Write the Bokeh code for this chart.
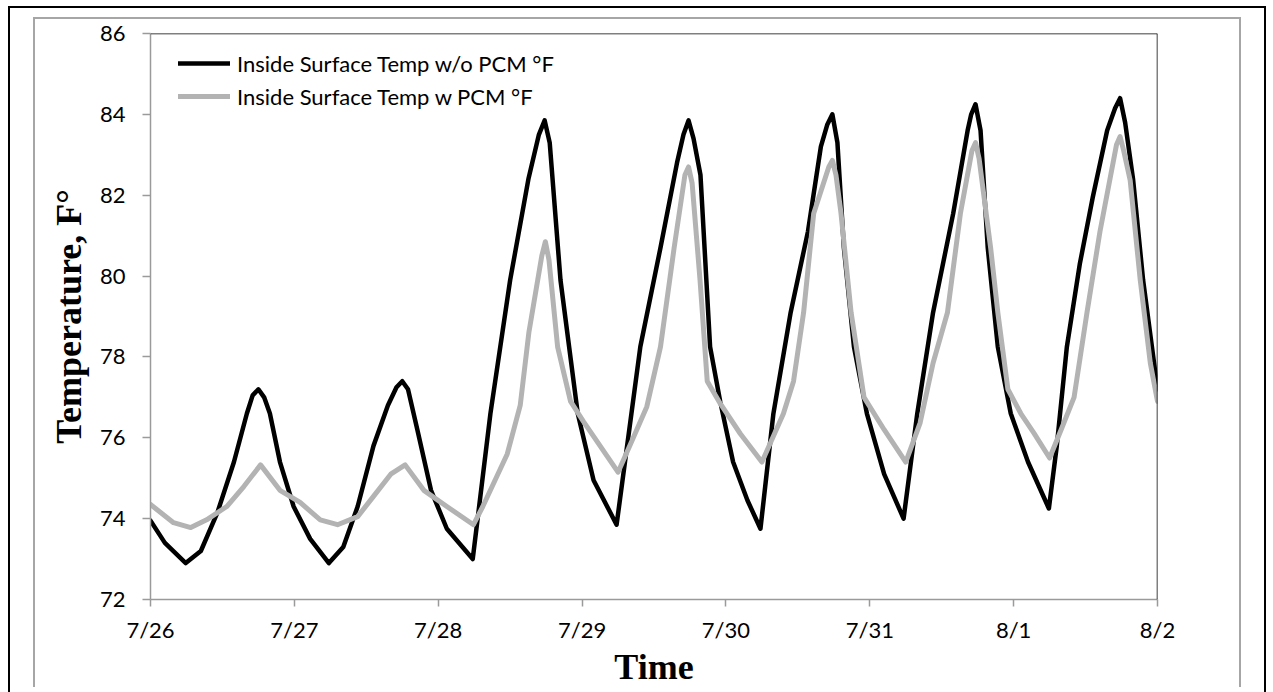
from bokeh.plotting import figure
from bokeh.models import Range1d, FixedTicker, Span, Legend, LegendItem
from bokeh.embed import file_html
from bokeh.resources import INLINE

# ---- data (day offsets from 7/26, temperatures in °F) ----
x_labels = ["7/26", "7/27", "7/28", "7/29", "7/30", "7/31", "8/1", "8/2"]
y_ticks = [72, 74, 76, 78, 80, 82, 84, 86]

wo_days = [0.00, 0.10, 0.245, 0.35, 0.465, 0.58, 0.67, 0.71, 0.75, 0.79, 0.83,
           0.90, 0.995, 1.11, 1.24, 1.34, 1.44, 1.55, 1.65, 1.71, 1.75, 1.79,
           1.855, 1.95, 2.06, 2.24, 2.363, 2.50, 2.627, 2.70, 2.74, 2.775, 2.85,
           2.97, 3.08, 3.24, 3.405, 3.545, 3.66, 3.705, 3.74, 3.775, 3.823, 3.89,
           3.96, 4.05, 4.15, 4.24, 4.33, 4.45, 4.57, 4.66, 4.705, 4.74, 4.775,
           4.82, 4.89, 4.98, 5.10, 5.235, 5.33, 5.44, 5.58, 5.68, 5.705, 5.735,
           5.77, 5.82, 5.89, 5.98, 6.10, 6.245, 6.30, 6.37, 6.46, 6.55, 6.65,
           6.705, 6.74, 6.775, 6.83, 6.90, 7.00]
wo_temp = [73.95, 73.4, 72.9, 73.2, 74.15, 75.4, 76.6, 77.05, 77.2, 77.0, 76.6,
           75.4, 74.3, 73.5, 72.9, 73.3, 74.3, 75.8, 76.8, 77.25, 77.4, 77.2,
           76.2, 74.7, 73.75, 73.0, 76.6, 79.9, 82.4, 83.5, 83.85, 83.3, 79.9,
           76.6, 74.95, 73.85, 78.25, 80.7, 82.8, 83.5, 83.85, 83.4, 82.5, 78.25,
           76.9, 75.4, 74.45, 73.75, 76.6, 79.1, 81.1, 83.2, 83.75, 84.0, 83.3,
           80.7, 78.25, 76.6, 75.1, 74.0, 76.6, 79.1, 81.55, 83.6, 84.0, 84.25,
           83.6, 80.7, 78.25, 76.6, 75.4, 74.25, 75.8, 78.25, 80.3, 81.95, 83.6,
           84.15, 84.4, 83.8, 82.4, 79.9, 77.2]

w_days = [0.00, 0.16, 0.28, 0.39, 0.53, 0.65, 0.765, 0.90, 1.04, 1.18, 1.30,
          1.44, 1.55, 1.67, 1.77, 1.90, 2.06, 2.245, 2.31, 2.48, 2.57, 2.63,
          2.72, 2.745, 2.77, 2.83, 2.92, 3.01, 3.25, 3.35, 3.45, 3.545, 3.64,
          3.715, 3.74, 3.765, 3.82, 3.87, 3.96, 4.10, 4.25, 4.40, 4.47, 4.54,
          4.61, 4.715, 4.74, 4.765, 4.80, 4.87, 4.96, 5.10, 5.25, 5.35, 5.44,
          5.54, 5.63, 5.71, 5.735, 5.76, 5.84, 5.89, 5.96, 6.05, 6.14, 6.25,
          6.33, 6.42, 6.51, 6.60, 6.715, 6.74, 6.765, 6.81, 6.88, 6.95, 7.00]
w_temp = [74.35, 73.9, 73.78, 73.97, 74.3, 74.8, 75.33, 74.7, 74.4, 73.97, 73.85,
          74.05, 74.55, 75.1, 75.33, 74.7, 74.3, 73.85, 74.3, 75.6, 76.8, 78.6,
          80.5, 80.85, 80.4, 78.25, 76.9, 76.4, 75.15, 75.95, 76.77, 78.25, 80.7,
          82.5, 82.7, 82.3, 79.9, 77.4, 76.85, 76.1, 75.4, 76.6, 77.4, 79.1,
          81.55, 82.7, 82.86, 82.5, 81.55, 79.1, 77.0, 76.2, 75.4, 76.37, 77.85,
          79.1, 81.55, 83.1, 83.3, 82.9, 80.7, 79.1, 77.2, 76.6, 76.12, 75.5,
          76.2, 77.0, 79.1, 81.1, 83.25, 83.45, 83.1, 82.37, 79.9, 77.85, 76.9]

series_names = ["Inside Surface Temp w/o PCM °F", "Inside Surface Temp w PCM °F"]

TICK_FONT = "Lato"
AXIS_GRAY = "#9a9a9a"

p = figure(width=1208, height=670, output_backend="svg", toolbar_location=None,
           x_range=Range1d(0, 7), y_range=Range1d(72, 86),
           min_border_left=115, min_border_right=86,
           min_border_top=14, min_border_bottom=86,
           background_fill_color="white", border_fill_color="white")
p.styles = {
    "margin-left": "33px",
    "margin-top": "17px",
    "border-left": "2px solid #a6a6a6",
    "border-top": "2px solid #a6a6a6",
    "border-right": "2px solid #a6a6a6",
    "box-shadow": "0 14px 0 23px white, 0 14px 0 25px black",
}
p.outline_line_color = None
p.grid.visible = False

# axes
p.xaxis.ticker = FixedTicker(ticks=list(range(len(x_labels))))
p.xaxis.major_label_overrides = {i: lab for i, lab in enumerate(x_labels)}
p.yaxis.ticker = FixedTicker(ticks=y_ticks)
for ax in (p.xaxis, p.yaxis):
    ax.axis_line_color = AXIS_GRAY
    ax.axis_line_width = 1.5
    ax.major_tick_line_color = AXIS_GRAY
    ax.major_tick_line_width = 1.5
    ax.minor_tick_line_color = None
    ax.major_tick_in = 0
    ax.major_label_text_font = TICK_FONT
    ax.major_label_text_font_size = "22px"
    ax.major_label_text_color = "black"
    ax.axis_label_text_font = "Liberation Serif"
    ax.axis_label_text_font_style = "bold"
    ax.axis_label_text_font_size = "36px"
    ax.axis_label_text_color = "black"
p.xaxis.major_tick_out = 7
p.yaxis.major_tick_out = 8
p.xaxis.major_label_standoff = 9
p.yaxis.major_label_standoff = 17
p.xaxis.axis_label = "Time"
p.yaxis.axis_label = "Temperature, F°"
p.xaxis.axis_label_standoff = 1
p.yaxis.axis_label_standoff = 8

# top / right frame edges in black
p.add_layout(Span(location=86, dimension="width", line_color="black", line_width=1.5))
p.add_layout(Span(location=7, dimension="height", line_color="black", line_width=1.5))

# series
r1 = p.line(wo_days, wo_temp, line_color="black", line_width=4.5,
            line_join="round", line_cap="round")
r2 = p.line(w_days, w_temp, line_color="#b3b3b3", line_width=5,
            line_join="round", line_cap="round")

legend = Legend(items=[LegendItem(label=series_names[0], renderers=[r1]),
                       LegendItem(label=series_names[1], renderers=[r2])],
                location=(28, 488), orientation="vertical")
legend.border_line_color = None
legend.background_fill_alpha = 0
legend.margin = 0
legend.padding = 0
legend.spacing = 3
legend.glyph_width = 52
legend.glyph_height = 30
legend.label_height = 30
legend.label_standoff = 7
legend.label_text_font = TICK_FONT
legend.label_text_font_size = "22px"
legend.label_text_color = "black"
p.add_layout(legend, "center")

open("out.html", "w").write(file_html(p, INLINE))
